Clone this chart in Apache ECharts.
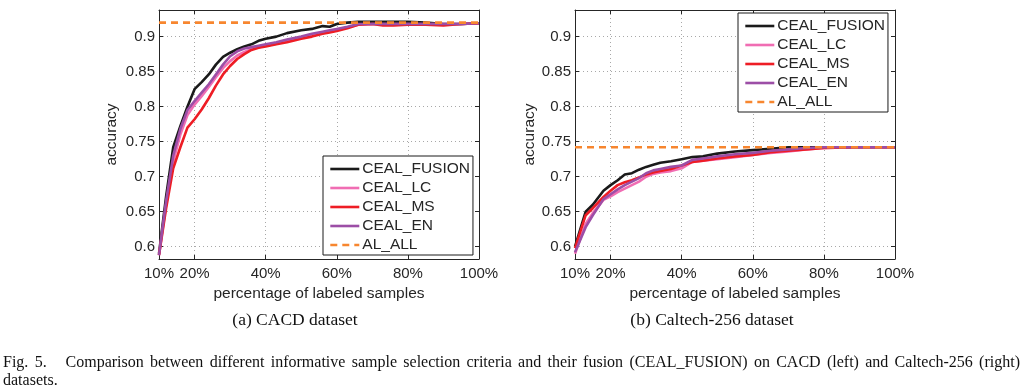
<!DOCTYPE html>
<html><head><meta charset="utf-8">
<script src="https://cdn.jsdelivr.net/npm/echarts@6/dist/echarts.min.js"></script>
<style>
html,body{margin:0;padding:0;background:#fff;width:1024px;height:391px;overflow:hidden;}
#chart{position:absolute;left:0;top:0;width:1024px;height:391px;}
#cap{position:absolute;left:3px;top:353px;width:1017px;font-family:"Liberation Serif","Times New Roman",serif;font-size:16px;line-height:17.5px;color:#111;}
#cap .l1{text-align:justify;text-align-last:justify;white-space:normal;}
</style></head><body>
<div id="chart"></div>
<div id="cap"><div class="l1">Fig. 5.&nbsp;&nbsp; Comparison between different informative sample selection criteria and their fusion (CEAL_FUSION) on CACD (left) and Caltech-256 (right)</div><div>datasets.</div></div>
<script>
// ---------- data ----------
const SERIES_NAMES = ['CEAL_FUSION', 'CEAL_LC', 'CEAL_MS', 'CEAL_EN', 'AL_ALL'];
const X_TICKS = [10, 20, 40, 60, 80, 100];
const Y_TICKS = [0.6, 0.65, 0.7, 0.75, 0.8, 0.85, 0.9];
const X_RANGE = [10, 100];
const Y_RANGE = [0.5825, 0.938];

// (a) CACD dataset
const CACD_X      = [10, 12, 14, 16, 18, 20, 22, 24, 26, 28, 30, 32, 34, 36, 38, 40, 43, 46, 50, 53, 56, 58, 60, 63, 66, 70, 73, 76, 80, 85, 90, 95, 100];
const CACD_FUSION = [0.590, 0.672, 0.742, 0.772, 0.800, 0.825, 0.835, 0.846, 0.860, 0.871, 0.877, 0.882, 0.886, 0.889, 0.894, 0.897, 0.900, 0.905, 0.909, 0.911, 0.915, 0.914, 0.918, 0.920, 0.921, 0.921, 0.921, 0.921, 0.921, 0.920, 0.918, 0.918, 0.919];
const CACD_LC     = [0.588, 0.660, 0.722, 0.760, 0.788, 0.803, 0.815, 0.828, 0.842, 0.855, 0.865, 0.873, 0.878, 0.882, 0.885, 0.887, 0.890, 0.894, 0.899, 0.903, 0.906, 0.908, 0.910, 0.913, 0.917, 0.918, 0.918, 0.918, 0.918, 0.918, 0.918, 0.918, 0.919];
const CACD_MS     = [0.588, 0.655, 0.712, 0.742, 0.770, 0.782, 0.796, 0.812, 0.830, 0.846, 0.858, 0.868, 0.875, 0.881, 0.884, 0.886, 0.889, 0.892, 0.897, 0.900, 0.904, 0.906, 0.908, 0.912, 0.917, 0.918, 0.916, 0.916, 0.917, 0.917, 0.916, 0.918, 0.919];
const CACD_EN     = [0.588, 0.665, 0.730, 0.768, 0.795, 0.808, 0.820, 0.832, 0.846, 0.860, 0.872, 0.879, 0.883, 0.885, 0.887, 0.889, 0.892, 0.896, 0.900, 0.904, 0.907, 0.909, 0.911, 0.914, 0.918, 0.918, 0.918, 0.918, 0.918, 0.918, 0.918, 0.918, 0.919];
const CACD_AL_ALL = [0.92, 0.92];
const CACD_AL_X   = [10, 100];

// (b) Caltech-256 dataset
const CAL_X      = [10, 13, 15, 18, 20, 22, 24, 26, 28, 30, 32, 34, 37, 40, 43, 46, 50, 55, 60, 65, 70, 75, 80, 90, 100];
const CAL_FUSION = [0.600, 0.650, 0.660, 0.680, 0.688, 0.695, 0.703, 0.705, 0.710, 0.714, 0.717, 0.720, 0.722, 0.725, 0.728, 0.729, 0.733, 0.736, 0.738, 0.740, 0.742, 0.742, 0.742, 0.742, 0.742];
const CAL_LC     = [0.590, 0.633, 0.648, 0.667, 0.672, 0.678, 0.683, 0.688, 0.693, 0.700, 0.704, 0.706, 0.708, 0.712, 0.721, 0.723, 0.725, 0.728, 0.731, 0.734, 0.736, 0.739, 0.741, 0.742, 0.742];
const CAL_MS     = [0.598, 0.645, 0.655, 0.671, 0.680, 0.688, 0.692, 0.695, 0.699, 0.703, 0.706, 0.708, 0.711, 0.716, 0.721, 0.723, 0.726, 0.729, 0.731, 0.735, 0.737, 0.739, 0.741, 0.742, 0.742];
const CAL_EN     = [0.592, 0.628, 0.645, 0.668, 0.675, 0.682, 0.688, 0.693, 0.698, 0.705, 0.709, 0.711, 0.714, 0.716, 0.724, 0.726, 0.729, 0.732, 0.734, 0.737, 0.739, 0.741, 0.742, 0.742, 0.742];
const CAL_AL_ALL = [0.742, 0.742];
const CAL_AL_X   = [10, 100];

// ---------- styling ----------
const FONT = '"Liberation Sans", Arial, Helvetica, sans-serif';
const AX = '#262626';
const COLORS = ['#1a1a1a', '#F06DB3', '#EE1D25', '#9C4EA6', '#F7862F'];
const GRIDS = [
  {left: 159, top: 10, width: 320, height: 249},
  {left: 575, top: 10, width: 320, height: 249}
];

const chart = echarts.init(document.getElementById('chart'), null, {renderer: 'canvas'});

const xAxes = [], yAxes = [];
GRIDS.forEach((g, gi) => {
  xAxes.push({
    type: 'value', gridIndex: gi, position: 'bottom', min: X_RANGE[0], max: X_RANGE[1],
    name: 'percentage of labeled samples', nameLocation: 'middle', nameGap: 20,
    nameTextStyle: {fontFamily: FONT, fontSize: 15.5, color: AX},
    axisLine: {show: true, onZero: false, lineStyle: {color: AX, width: 1}},
    axisTick: {show: true, inside: true, length: 4, customValues: X_TICKS, lineStyle: {color: AX}},
    axisLabel: {show: true, customValues: X_TICKS, formatter: v => v + '%', margin: 7, fontFamily: FONT, fontSize: 15, color: AX},
    splitLine: {show: true, lineStyle: {type: [1, 3], color: '#a8a8a8', width: 1}}
  });
  xAxes.push({
    type: 'value', gridIndex: gi, position: 'top', min: X_RANGE[0], max: X_RANGE[1],
    axisLine: {show: true, onZero: false, lineStyle: {color: AX, width: 1}},
    axisTick: {show: true, inside: true, length: 4, customValues: X_TICKS, lineStyle: {color: AX}},
    axisLabel: {show: false}, splitLine: {show: false}
  });
  yAxes.push({
    type: 'value', gridIndex: gi, position: 'left', min: Y_RANGE[0], max: Y_RANGE[1],
    name: 'accuracy', nameLocation: 'middle', nameGap: gi === 0 ? 39 : 37,
    nameTextStyle: {fontFamily: FONT, fontSize: 15.5, color: AX},
    axisLine: {show: true, onZero: false, lineStyle: {color: AX, width: 1}},
    axisTick: {show: true, inside: true, length: 4, customValues: Y_TICKS, lineStyle: {color: AX}},
    axisLabel: {show: true, customValues: Y_TICKS, formatter: v => String(Number(v.toFixed(3))), margin: 4, fontFamily: FONT, fontSize: 15, color: AX},
    splitLine: {show: true, lineStyle: {type: [1, 3], color: '#a8a8a8', width: 1}}
  });
  yAxes.push({
    type: 'value', gridIndex: gi, position: 'right', min: Y_RANGE[0], max: Y_RANGE[1],
    axisLine: {show: true, onZero: false, lineStyle: {color: AX, width: 1}},
    axisTick: {show: true, inside: true, length: 4, customValues: Y_TICKS, lineStyle: {color: AX}},
    axisLabel: {show: false}, splitLine: {show: false}
  });
});

function mk(name, xs, ys, color, gi, dashed) {
  return {
    type: 'line', name: name, xAxisIndex: gi * 2, yAxisIndex: gi * 2,
    data: xs.map((x, i) => [x, ys[i]]),
    symbol: 'none', showSymbol: false, silent: true, animation: false,
    itemStyle: {color: color},
    lineStyle: {color: color, width: 2.6, type: dashed ? [7, 5] : 'solid', join: 'round'}
  };
}

const left = [CACD_FUSION, CACD_LC, CACD_MS, CACD_EN];
const right = [CAL_FUSION, CAL_LC, CAL_MS, CAL_EN];
const series = [];
left.forEach((ys, i) => series.push(mk(SERIES_NAMES[i], CACD_X, ys, COLORS[i], 0, false)));
series.push(mk(SERIES_NAMES[4], CACD_AL_X, CACD_AL_ALL, COLORS[4], 0, true));
right.forEach((ys, i) => series.push(mk(SERIES_NAMES[i], CAL_X, ys, COLORS[i], 1, false)));
series.push(mk(SERIES_NAMES[4], CAL_AL_X, CAL_AL_ALL, COLORS[4], 1, true));

const legendBase = {
  orient: 'vertical', data: SERIES_NAMES, itemWidth: 29, itemHeight: 16, itemGap: 3,
  padding: [5, 3, 2, 6], backgroundColor: '#fff', borderColor: '#1a1a1a', borderWidth: 1, borderRadius: 0,
  selectedMode: false, z: 10,
  itemStyle: {opacity: 0, borderWidth: 0},
  lineStyle: {width: 2.6},
  textStyle: {fontFamily: FONT, fontSize: 15.5, color: AX, lineHeight: 16, padding: [0, 0, 0, -2]}
};

chart.setOption({
  backgroundColor: '#fff',
  animation: false,
  grid: GRIDS.map(g => Object.assign({containLabel: false, show: false}, g)),
  xAxis: xAxes,
  yAxis: yAxes,
  legend: [
    Object.assign({left: 323, top: 156}, legendBase),
    Object.assign({left: 738, top: 13}, legendBase)
  ],
  graphic: [
    {type: 'text', x: 295, y: 320, style: {text: '(a) CACD dataset', font: '17.5px "Liberation Serif", "Times New Roman", serif', fill: '#111', textAlign: 'center', textVerticalAlign: 'middle'}},
    {type: 'text', x: 712, y: 320, style: {text: '(b) Caltech-256 dataset', font: '17.5px "Liberation Serif", "Times New Roman", serif', fill: '#111', textAlign: 'center', textVerticalAlign: 'middle'}}
  ],
  series: series
});
</script>
</body></html>
